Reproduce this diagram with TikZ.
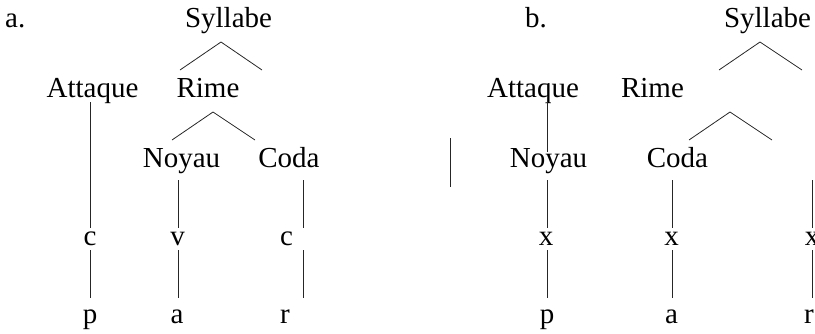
\documentclass[tikz,border=0pt]{standalone}
\usepackage{fontspec}
\setmainfont{Liberation Serif}
\begin{document}
\begin{tikzpicture}[x=1pt,y=-1pt,
  lab/.style={font=\fontsize{29}{34}\selectfont, inner sep=0pt, anchor=base},
  edge/.style={line width=0.8pt, black!85}]
\useasboundingbox (0,0) rectangle (815,333);
\clip (0,0) rectangle (815,333);
% ---------- a. ----------
\node[lab, anchor=base west] (la) at (5,27) {a.};
\node[lab] (aSyl) at (228.5,27) {Syllabe};
\node[lab] (aAtt) at (92.5,97) {Attaque};
\node[lab] (aRime) at (208,97) {Rime};
\node[lab] (aNoy) at (181.5,167) {Noyau};
\node[lab] (aCoda) at (289,167) {Coda};
\node[lab] (ac1) at (90,245) {c};
\node[lab] (av) at (177.5,245) {v};
\node[lab] (ac2) at (286.5,245) {c};
\node[lab] (ap) at (90,323) {p};
\node[lab] (aa) at (177,323) {a};
\node[lab] (ar) at (285,323) {r};
% branches
\coordinate (aS0) at (221,42); \coordinate (aS1) at (180,70); \coordinate (aS2) at (262,70);
\coordinate (aR0) at (213,112); \coordinate (aR1) at (172,140); \coordinate (aR2) at (255,140);
\draw[edge] (aS1) -- (aS0) -- (aS2);
\draw[edge] (aR1) -- (aR0) -- (aR2);
% verticals
\coordinate (aA1) at (90,102); \coordinate (aA2) at (90,228);
\coordinate (aA3) at (90,250); \coordinate (aA4) at (90,298);
\coordinate (aN1) at (178,180); \coordinate (aN2) at (178,228);
\coordinate (aN3) at (178,250); \coordinate (aN4) at (178,298);
\coordinate (aC1) at (303,180); \coordinate (aC2) at (303,228);
\coordinate (aC3) at (303,250); \coordinate (aC4) at (303,298);
\draw[edge] (aA1) -- (aA2); \draw[edge] (aA3) -- (aA4);
\draw[edge] (aN1) -- (aN2); \draw[edge] (aN3) -- (aN4);
\draw[edge] (aC1) -- (aC2); \draw[edge] (aC3) -- (aC4);
% separator
\coordinate (sep1) at (450,138); \coordinate (sep2) at (450,187);
\draw[edge] (sep1) -- (sep2);
% ---------- b. ----------
\node[lab, anchor=base west] (lb) at (525,27) {b.};
\node[lab] (bSyl) at (767.5,27) {Syllabe};
\node[lab] (bAtt) at (533,97) {Attaque};
\node[lab] (bRime) at (652.5,97) {Rime};
\node[lab] (bNoy) at (548.5,167) {Noyau};
\node[lab] (bCoda) at (677.5,167) {Coda};
\node[lab] (bx1) at (546,245) {x};
\node[lab] (bx2) at (671.5,245) {x};
\node[lab] (bx3) at (812,245) {x};
\node[lab] (bp) at (547,323) {p};
\node[lab] (ba) at (671.5,323) {a};
\node[lab] (br) at (809,323) {r};
\coordinate (bS0) at (760,42); \coordinate (bS1) at (719,70); \coordinate (bS2) at (802,70);
\coordinate (bR0) at (730,112); \coordinate (bR1) at (689,140); \coordinate (bR2) at (772,140);
\draw[edge] (bS1) -- (bS0) -- (bS2);
\draw[edge] (bR1) -- (bR0) -- (bR2);
\coordinate (bA1) at (547,102); \coordinate (bA2) at (547,152);
\draw[edge] (bA1) -- (bA2);
\coordinate (bN1) at (547,180); \coordinate (bN2) at (547,228);
\coordinate (bN3) at (547,250); \coordinate (bN4) at (547,298);
\coordinate (bC1) at (672,180); \coordinate (bC2) at (672,228);
\coordinate (bC3) at (672,250); \coordinate (bC4) at (672,298);
\coordinate (bT1) at (812,180); \coordinate (bT2) at (812,228);
\coordinate (bT3) at (812,250); \coordinate (bT4) at (812,298);
\draw[edge] (bN1) -- (bN2); \draw[edge] (bN3) -- (bN4);
\draw[edge] (bC1) -- (bC2); \draw[edge] (bC3) -- (bC4);
\draw[edge] (bT1) -- (bT2); \draw[edge] (bT3) -- (bT4);
\end{tikzpicture}
\end{document}
